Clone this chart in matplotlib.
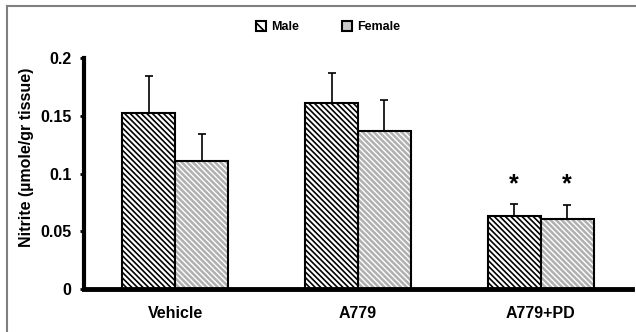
import matplotlib
matplotlib.use("Agg")
import matplotlib.pyplot as plt
from matplotlib.patches import Patch
from matplotlib.lines import Line2D
import numpy as np

plt.rcParams['font.family'] = ['Liberation Sans', 'DejaVu Sans']
plt.rcParams['font.weight'] = 'bold'
plt.rcParams['hatch.linewidth'] = 1.2

categories = ["Vehicle", "A779", "A779+PD"]
male = [0.152, 0.161, 0.063]
male_err = [0.032, 0.026, 0.011]
female = [0.111, 0.137, 0.061]
female_err = [0.023, 0.027, 0.012]
yticks = [0, 0.05, 0.1, 0.15, 0.2]
ytick_labels = ["0", "0.05", "0.1", "0.15", "0.2"]
star_groups = [2]

W, H = 636, 332
fig = plt.figure(figsize=(W / 100, H / 100), dpi=100)
ax = fig.add_axes([84 / W, 43 / H, (632 - 84) / W, 231 / H])

x = np.arange(len(categories))
w = 0.29
HATCH = '\\' * 6

mb = ax.bar(x - w / 2, male, w, color='white', edgecolor='black', hatch=HATCH,
            linewidth=1.5, zorder=2)
fb = ax.bar(x + w / 2, female, w, color='#b0b0b0', edgecolor='white', hatch=HATCH,
            linewidth=0, zorder=2)
for p in fb:
    if hasattr(p, 'set_hatch_linewidth'):
        p.set_hatch_linewidth(1.0)
ax.bar(x + w / 2, female, w, fill=False, edgecolor='black', linewidth=1.5, zorder=3)

ax.errorbar(x - w / 2, male, yerr=[np.zeros(3), male_err], fmt='none', ecolor='black',
            elinewidth=1.2, capsize=3.2, capthick=1.2, zorder=1)
ax.errorbar(x + w / 2, female, yerr=[np.zeros(3), female_err], fmt='none', ecolor='black',
            elinewidth=1.2, capsize=3.2, capthick=1.2, zorder=1)

for g in star_groups:
    for xc in [x[g] - w / 2, x[g] + w / 2]:
        ax.text(xc, 0.085, '*', ha='center', va='baseline', fontsize=18, fontweight='bold')

ax.set_xlim(-0.5, 2.5)
ax.set_ylim(0, 0.2)
ax.set_yticks(yticks)
ax.set_yticklabels(ytick_labels)
ax.set_xticks(x)
ax.set_xticklabels(categories)
ax.tick_params(axis='x', length=0, pad=12, labelsize=11.5)
ax.tick_params(axis='y', length=3, width=2, pad=6, labelsize=11.5, direction='out')
for s in ['top', 'right']:
    ax.spines[s].set_visible(False)
ax.spines['left'].set_linewidth(3)
ax.spines['bottom'].set_linewidth(3.5)
ax.set_ylabel('Nitrite (µmole/gr tissue)', fontsize=11.5, fontweight='bold')
ax.yaxis.set_label_coords(-0.092, 0.57)

handles = [Patch(facecolor='white', edgecolor='black', hatch='\\', linewidth=1.5),
           Patch(facecolor='#c8c8c8', edgecolor='black', linewidth=1.5)]
fig.legend(handles, ['Male', 'Female'], loc='center', bbox_to_anchor=(328 / W, 1 - 27 / H),
           ncol=2, frameon=False, handlelength=0.8, handleheight=0.8,
           handletextpad=0.4, columnspacing=3.5, prop={'weight': 'bold', 'size': 9})

fig.add_artist(Line2D([7 / W, 7 / W], [0, 1 - 6 / H], color='#808080', lw=1.5,
                      transform=fig.transFigure))
fig.add_artist(Line2D([7 / W, 1], [1 - 6 / H, 1 - 6 / H], color='#808080', lw=1.5,
                      transform=fig.transFigure))

fig.savefig('out.png', dpi=100)
